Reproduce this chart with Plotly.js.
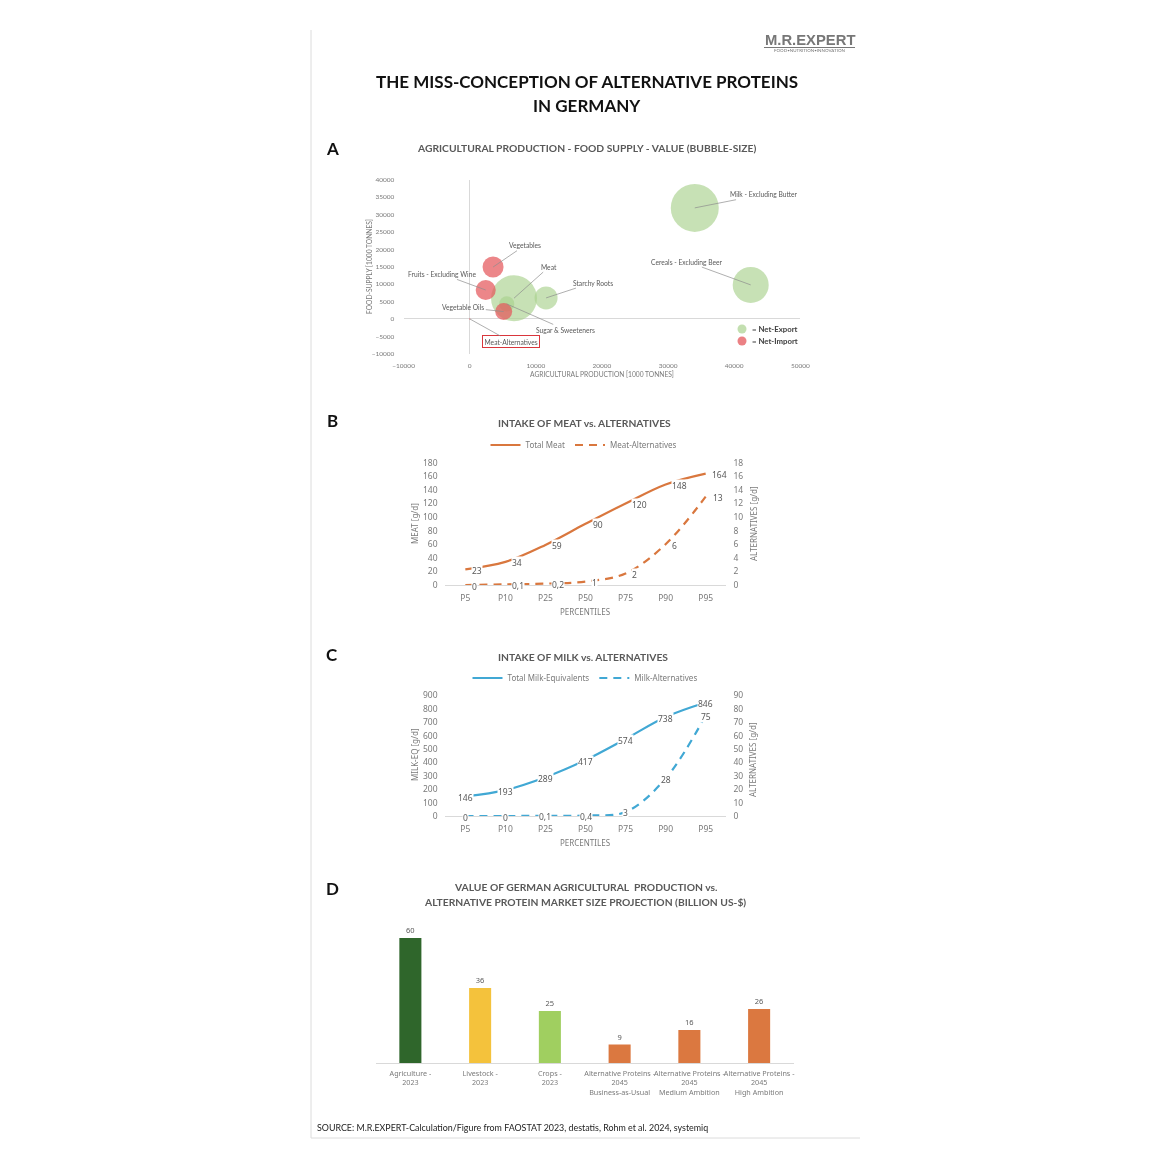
<!DOCTYPE html>
<html><head><meta charset="utf-8">
<script src="https://cdn.plot.ly/plotly-3.0.1.min.js"></script>
<style>html,body{margin:0;padding:0;background:#fff}#c{width:1170px;height:1162px;filter:blur(0.35px)}</style>
</head><body><div id="c"></div>
<script>
// ---- Data ----
const exportNames = ["Milk - Excluding Butter","Cereals - Excluding Beer","Meat","Starchy Roots","Sugar & Sweeteners"];
const exportProd  = [34040,42500,6700,11550,5600];
const exportSupply= [31900,9770,5950,6030,4300];
const exportValue = [12,6.75,11,2.75,1.2];
const importNames = ["Vegetables","Fruits - Excluding Wine","Vegetable Oils","Meat-Alternatives"];
const importProd  = [3530,2420,5140,0];
const importSupply= [14900,8300,2100,0];
const importValue = [2.3,2.1,1.5,0.01];

const percentiles = ["P5","P10","P25","P50","P75","P90","P95"];
const totalMeat   = [23,34,59,90,120,148,164];
const meatAlt     = [0,0.1,0.2,0.5,1.7,6,13];
const meatAltText = ["0","0,1","0,2","1","2","6","13"];
const totalMilk   = [146,193,289,417,574,738,846];
const milkAlt     = [0,0,0.1,0.4,3,28,75];
const milkAltText = ["0","0","0,1","0,4","3","28","75"];

const valueCats = ["Agriculture -<br>2023","Livestock -<br>2023","Crops -<br>2023",
  "Alternative Proteins -<br>2045<br>Business-as-Usual","Alternative Proteins -<br>2045<br>Medium Ambition","Alternative Proteins -<br>2045<br>High Ambition"];
const valueBn = [60,36,25,9,16,26];
const valueColors = ["#2F662B","#F4C23C","#A0CF60","#DB7840","#DB7840","#DB7840"];

// ---- Helpers (page pixels to paper fractions) ----
const W=1170,H=1162;
const fx=p=>p/W, fy=p=>1-p/H;
const dx=(a,b)=>[fx(a),fx(b)], dy=(top,bot)=>[fy(bot),fy(top)];
const GREY="#7a7a7a", TITLE="#595959", BLUE="#41A8D4", ORANGE="#D9773E", AXIS="#d9d9d9";
const SANS="Lato, sans-serif", TF="Noto Sans, sans-serif";
const BUBBLE_REF=2*12/(48*48);
const GREEN_KEY="#A9D18E", RED_KEY="#E4575B";

const pageText=(text,xp,yp,size,color,extra,family,weight)=>Object.assign({text,xref:"paper",yref:"paper",x:fx(xp),y:fy(yp),
  xanchor:"center",yanchor:"middle",showarrow:false,font:{family:family||SANS,size,color,weight:weight||400}},extra||{});
const heading=(t,x,y)=>pageText(t,x,y,10.3,TITLE,null,SANS,700);
const letter=(t,y)=>pageText(t,332,y,17,"#111",null,SANS,700);
const axisText=(t,x,y,vertical,family,size)=>pageText(t,x,y,size||8,GREY,vertical?{textangle:-90}:null,family||TF);

const traces=[
 {type:"scatter",mode:"markers",name:"Net-Export",x:exportProd,y:exportSupply,xaxis:"x",yaxis:"y",showlegend:false,cliponaxis:false,
  marker:{size:exportValue,sizemode:"area",sizeref:BUBBLE_REF,color:GREEN_KEY,opacity:0.65,line:{width:0}}},
 {type:"scatter",mode:"markers",name:"Net-Import",x:importProd,y:importSupply,xaxis:"x",yaxis:"y",showlegend:false,cliponaxis:false,
  marker:{size:importValue,sizemode:"area",sizeref:BUBBLE_REF,color:RED_KEY,opacity:0.72,line:{width:0}}},
 {type:"scatter",mode:"lines",name:"Total Meat",x:percentiles,y:totalMeat,xaxis:"x2",yaxis:"y2",legend:"legend2",
  line:{color:ORANGE,width:2.2,shape:"spline"}},
 {type:"scatter",mode:"lines",name:"Meat-Alternatives",x:percentiles,y:meatAlt,xaxis:"x2",yaxis:"y3",legend:"legend2",
  line:{color:ORANGE,width:2.2,shape:"spline",dash:"8px,6px"}},
 {type:"scatter",mode:"lines",name:"Total Milk-Equivalents",x:percentiles,y:totalMilk,xaxis:"x3",yaxis:"y4",legend:"legend3",
  line:{color:BLUE,width:2.2,shape:"spline"}},
 {type:"scatter",mode:"lines",name:"Milk-Alternatives",x:percentiles,y:milkAlt,xaxis:"x3",yaxis:"y5",legend:"legend3",
  line:{color:BLUE,width:2.2,shape:"spline",dash:"8px,6px"}},
 {type:"bar",x:valueCats,y:valueBn,xaxis:"x4",yaxis:"y6",showlegend:false,width:0.316,
  marker:{color:valueColors,line:{width:0}},text:valueBn.map(String),textposition:"outside",cliponaxis:false,
  textfont:{family:TF,size:7.5,color:"#595959"}}
];

// ---- Annotations ----
const ann=[
 pageText("THE MISS-CONCEPTION OF ALTERNATIVE PROTEINS",587,81,17,"#111",null,SANS,700),
 pageText("IN GERMANY",587,105,17,"#111",null,SANS,700),
 letter("A",148),letter("B",420.5),letter("C",654),letter("D",888.5),
 heading("AGRICULTURAL PRODUCTION - FOOD SUPPLY - VALUE (BUBBLE-SIZE)",586,148.5),
 heading("INTAKE OF MEAT vs. ALTERNATIVES",584,422.5),
 heading("INTAKE OF MILK vs. ALTERNATIVES",583,656.5),
 heading("VALUE OF GERMAN AGRICULTURAL  PRODUCTION vs.",585,887),
 heading("ALTERNATIVE PROTEIN MARKET SIZE PROJECTION (BILLION US-$)",585,902),
 pageText("SOURCE: M.R.EXPERT-Calculation/Figure from FAOSTAT 2023, destatis, Rohm et al. 2024, systemiq",314.5,1127,8.9,"#222",{xanchor:"left"}),
 pageText("M.R.EXPERT",809.5,40,14.8,"#777",null,"Liberation Sans, sans-serif",700),
 pageText("FOOD•NUTRITION•INNOVATION",809.5,51,4.5,"#777"),
 axisText("AGRICULTURAL PRODUCTION [1000 TONNES]",602,374,false,SANS,6.7),
 axisText("FOOD-SUPPLY [1000 TONNES]",369,267,true,SANS,6.7),
 axisText("MEAT [g/d]",414,524,true),
 axisText("ALTERNATIVES [g/d]",753,524,true),
 axisText("PERCENTILES",585,611),
 axisText("MILK-EQ [g/d]",414,755,true),
 axisText("ALTERNATIVES [g/d]",752,760,true),
 axisText("PERCENTILES",585,842),
 pageText("= Net-Export",750,329,7.8,"#404040",{xanchor:"left"},SANS,700),
 pageText("= Net-Import",750,341,7.8,"#404040",{xanchor:"left"},SANS,700)
];

// bubble call-outs: text placed at (ax,ay), leader ends on the bubble
const callout=(text,x,y,ax,ay,extra)=>Object.assign({text,x,y,ax,ay,xref:"x",yref:"y",axref:"x",ayref:"y",showarrow:true,
  arrowhead:0,arrowwidth:0.7,arrowcolor:"#8c8c8c",standoff:0,
  font:{family:SANS,size:6.7,color:"#595959"}},extra||{});
ann.push(
 callout(exportNames[0],exportProd[0],exportSupply[0],44480,35830),
 callout(exportNames[1],exportProd[1],exportSupply[1],32830,16470),
 callout(exportNames[2],exportProd[2],exportSupply[2],12040,15030),
 callout(exportNames[3],exportProd[3],exportSupply[3],18600,10430),
 callout(exportNames[4],exportProd[4],exportSupply[4],14520,-3160),
 callout(importNames[0],importProd[0],importSupply[0],8370,21180),
 callout(importNames[1],importProd[1],importSupply[1],-4190,12930),
 callout(importNames[2],importProd[2],importSupply[2],-970,3360),
 callout(importNames[3],importProd[3],importSupply[3],6250,-6610,{bordercolor:"#D9363C",borderwidth:1,borderpad:1.5})
);

const pointLabel=(text,x,y,xr,yr,xs,ys)=>({text:String(text),x,y,xref:xr,yref:yr,xshift:xs,yshift:ys,showarrow:false,
  bgcolor:"#fff",borderpad:0,font:{family:TF,size:8.5,color:"#595959"}});
const meatShift=[12,12,12,12,14,14,14];
const meatAltShift=[9,13,13,9,9,9,12];
percentiles.forEach((p,i)=>{
  ann.push(pointLabel(totalMeat[i],p,totalMeat[i],"x2","y2",meatShift[i],-1));
  ann.push(pointLabel(meatAltText[i],p,meatAlt[i],"x2","y3",meatAltShift[i],-1));
  ann.push(pointLabel(totalMilk[i],p,totalMilk[i],"x3","y4",0,-1));
  ann.push(pointLabel(milkAltText[i],p,milkAlt[i],"x3","y5",0,-1));
});

// ---- Axes ----
const CLEAR="rgba(0,0,0,0)";
const tick={family:SANS,size:6.5,color:GREY};
const tick2={family:TF,size:8.5,color:GREY};
const catAxis=(domain,anchor)=>({domain,anchor,type:"category",range:[-0.5,6.5],showgrid:false,zeroline:false,showline:true,linecolor:AXIS,linewidth:1,
  ticks:"outside",ticklen:5,tickcolor:CLEAR,tickfont:tick2,automargin:false});
const valAxis=(domain,anchor,range,dtick)=>({domain,anchor,range,dtick,showgrid:false,zeroline:false,showline:false,ticks:"outside",ticklen:5,tickcolor:CLEAR,
  tickfont:tick2,automargin:false});
const sideAxis=(overlay,anchor,range,dtick)=>({overlaying:overlay,anchor,side:"right",range,dtick,showgrid:false,zeroline:false,showline:false,ticks:"outside",ticklen:5,tickcolor:CLEAR,tickfont:tick2,automargin:false});

const layout={
 width:W,height:H,margin:{l:0,r:0,t:0,b:0},paper_bgcolor:"#fff",plot_bgcolor:CLEAR,showlegend:true,
 font:{family:SANS,color:GREY},
 xaxis:{domain:dx(403.6,800.3),anchor:"y",range:[-10000,50000],dtick:10000,tickformat:"d",showgrid:false,zeroline:true,zerolinecolor:AXIS,zerolinewidth:1.2,showline:false,
   ticks:"outside",ticklen:5,tickcolor:CLEAR,tickfont:tick,automargin:false},
 yaxis:{domain:dy(179.7,353.7),anchor:"x",range:[-10000,40000],dtick:5000,tickformat:"d",showgrid:false,zeroline:true,zerolinecolor:AXIS,zerolinewidth:1.2,showline:false,
   ticks:"outside",ticklen:7,tickcolor:CLEAR,tickfont:tick,automargin:false},
 xaxis2:catAxis(dx(445.3,725.7),"y2"),
 yaxis2:valAxis(dy(462.7,585),"x2",[0,180],20),
 yaxis3:sideAxis("y2","x2",[0,18],2),
 xaxis3:catAxis(dx(445.3,725.7),"y4"),
 yaxis4:valAxis(dy(695.3,816),"x3",[0,900],100),
 yaxis5:sideAxis("y4","x3",[0,90],10),
 xaxis4:{domain:dx(375.5,794),anchor:"y6",type:"category",showgrid:false,zeroline:false,showline:true,linecolor:AXIS,linewidth:1,
   ticks:"outside",ticklen:3,tickcolor:CLEAR,tickfont:{family:TF,size:7.2,color:GREY},tickangle:0,automargin:false},
 yaxis6:{domain:dy(938,1063.3),anchor:"x4",range:[0,60],visible:false},
 legend2:{x:fx(584),y:fy(445),xanchor:"center",yanchor:"middle",orientation:"h",bgcolor:CLEAR,font:{family:TF,size:8,color:GREY}},
 legend3:{x:fx(585),y:fy(678),xanchor:"center",yanchor:"middle",orientation:"h",bgcolor:CLEAR,font:{family:TF,size:8,color:GREY}},
 annotations:ann,
 shapes:[
  {type:"line",xref:"paper",yref:"paper",x0:fx(311),x1:fx(311),y0:fy(30),y1:fy(1138),line:{color:"#dcdcdc",width:1}},
  {type:"line",xref:"paper",yref:"paper",x0:fx(311),x1:fx(860),y0:fy(1138),y1:fy(1138),line:{color:"#dcdcdc",width:1}},
  {type:"line",xref:"paper",yref:"paper",x0:fx(764),x1:fx(855),y0:fy(47.5),y1:fy(47.5),line:{color:"#777",width:1.2}},
  {type:"circle",xref:"paper",yref:"paper",x0:fx(737.5),x1:fx(746.5),y0:fy(324.5),y1:fy(333.5),fillcolor:GREEN_KEY,opacity:0.7,line:{width:0}},
  {type:"circle",xref:"paper",yref:"paper",x0:fx(737.5),x1:fx(746.5),y0:fy(336.5),y1:fy(345.5),fillcolor:RED_KEY,opacity:0.75,line:{width:0}}
 ]
};
Plotly.newPlot("c",traces,layout,{displayModeBar:false,responsive:false});
</script></body></html>
